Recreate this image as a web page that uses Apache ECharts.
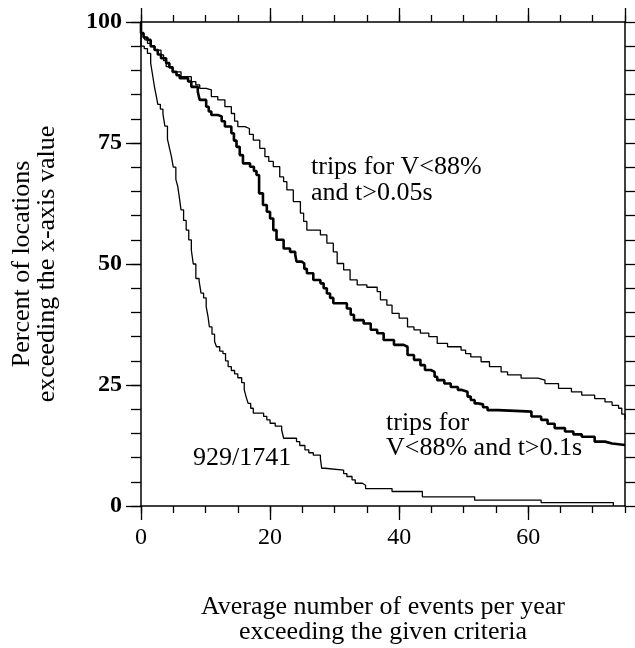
<!DOCTYPE html>
<html>
<head>
<meta charset="utf-8">
<script src="https://cdn.jsdelivr.net/npm/echarts@6/dist/echarts.min.js"></script>
<style>html,body{margin:0;padding:0;background:#fff}#c{width:635px;height:648px}</style>
</head>
<body>
<div id="c"></div>
<script>
// Curve "929/1741" (x = events per year, level after that x)
const xA = [0,0,0.5,1.0,1.5,1.8,2.1,2.4,2.6,3.0,3.4,3.7,4.1,4.4,4.7,5.0,5.4,5.7,6.0,6.2,6.6,7.0,7.4,7.8,8.1,8.5,9.0,9.3,9.7,10.1,10.4,10.6,11.0,11.4,11.7,12.2,12.7,13.1,13.5,14.0,14.5,15.0,15.6,16.0,16.3,16.6,17.0,17.4,19.0,19.5,20.0,20.8,21.8,22.1,24.1,24.6,25.4,26.0,26.7,27.8,28.0,28.5,31.4,31.9,32.7,33.2,34.3,34.8,38.9,43.6,51.7,62.0,73.2];
const yA = [100,95,94.5,93.5,91.5,89,86.5,84.5,83,82,81,78.5,75.8,74,72.3,70,67.5,66,63.2,61.2,59,57,55,52.9,50,47,46.5,44,43,41.2,39,37,35.5,34,32.9,32,31.5,30,28.8,28,27.3,26.5,25.5,24,22.5,21.2,20.2,19.2,18.5,17.8,17.1,16.5,15.7,14.0,13.3,12.5,11.6,11.0,10.5,9.8,7.8,7.4,6.7,6.1,5.4,4.7,4.3,3.6,3.0,1.9,1.2,0.7,0];

// Curve "trips for V<88% and t>0.1s" (thick)
const xB = [0,0,0.4,1.0,1.5,2.1,2.6,3.1,3.9,4.4,4.9,5.5,6.0,7.3,7.8,8.8,9.1,10.1,10.5,10.9,11.9,12.5,13.0,14.0,14.4,14.8,15.3,15.8,16.9,17.5,17.9,18.3,18.9,19.5,20.0,20.5,21.0,22.1,23.1,23.9,24.1,24.9,25.3,25.7,26.7,27.8,28.3,28.8,29.3,29.8,31.9,32.5,33.0,34.5,35.6,36.6,37.6,39.2,40.7,41.3,42.3,43.3,44.0,44.9,45.5,45.9,47.0,48.0,49.1,49.6,50.6,51.1,51.7,52.2,53.0,53.7,55.3,58.9,60.5,62.0,63.0,64.1,65.7,67.0,68.3,70.3,71.9,73.0,75];
const yB = [100,97.7,96.8,96.3,95,94.2,93.3,92.5,91.5,90.6,89.7,89,88.4,87.7,86.6,85.6,83.9,82.5,81.5,80.8,80.5,79.5,78.4,77.0,75.5,74.2,72.5,70.8,70.1,69.2,68.4,64.6,62.2,60.8,59.4,57.0,55.0,53.2,52.5,51.9,50.5,50.1,49,48.1,46.7,46.0,45,43.9,43,41.9,40.8,39.5,38.4,37.7,36.4,35.7,34.3,33.3,32.9,31.2,30.2,29.1,28.1,27.7,26.7,26.0,25.3,24.6,24.0,23.6,22.6,21.9,21.2,21.0,20.4,19.8,19.6,19.5,18.5,17.8,17.0,16.1,15.4,14.8,14.3,13.3,12.9,12.6,12.6];

// Curve "trips for V<88% and t>0.05s" (thin, upper)
const xC = [0,0,0.3,0.6,1.0,1.5,2.1,3.1,3.5,3.9,4.9,6.2,7.8,8.5,9.1,10.1,10.9,11.9,13.0,14.0,14.5,15.0,16.1,16.8,17.4,18.4,19.2,19.8,20.5,21.5,22.1,22.6,23.6,24.7,25.2,25.7,27.8,28.8,29.8,30.4,31.4,32.4,33.5,35.0,36.6,37.1,38.1,38.9,40.0,41.3,42.3,43.3,44.6,45.9,47.5,49.6,50.3,51.1,52.7,54.0,55.8,56.8,58.9,61.5,62.6,64.7,66.7,68.3,70.3,71.9,73.0,74.0,74.5,75];
const yC = [100,98,97.5,96.3,95.6,94.9,94.2,93.2,92,90.8,89.7,88.7,87.7,87,86.3,86.0,84.6,83.9,82.5,81.1,79.5,78.4,78.0,76.8,75.6,73.9,72.2,71.2,70.1,68.0,67,65.3,62.9,60.5,58.8,57.0,56.0,54.3,52.5,50.1,48.8,46.7,45.7,45.2,44.3,42.6,41.5,39.8,38.8,37.0,36.4,35.7,35.0,33.6,32.9,32.2,31.5,30.8,29.8,28.8,27.7,27.1,26.4,26.0,25.3,24.3,23.6,22.9,22.2,21.5,20.8,20.2,19,17.8];

const xTitle = ['Average number of events per year', 'exceeding the given criteria'];
const yTitle = ['Percent of locations', 'exceeding the x-axis value'];
const noteC = ['trips for V<88%', 'and t>0.05s'];
const noteB = ['trips for', 'V<88% and t>0.1s'];
const noteA = '929/1741';

const FONT = '"Liberation Serif","Times New Roman",serif';
const zip = (xs, ys) => xs.map((x, i) => [x, ys[i]]);

const chart = echarts.init(document.getElementById('c'), null, {renderer: 'canvas'});
const axisLineStyle = {color: '#000', width: 1.5};
function xAx(pos, interval, len, labels) {
  return {
    type: 'value', position: pos, min: 0, max: 75, interval: interval,
    axisLine: {show: labels !== null, lineStyle: axisLineStyle, onZero: false},
    axisTick: {show: true, inside: false, length: len, lineStyle: {color: '#000', width: 1.3}},
    axisLabel: labels ? {show: true, fontFamily: FONT, fontSize: 24, color: '#000', margin: 20,
      showMaxLabel: false, formatter: v => (v % 20 === 0 ? String(v) : '')} : {show: false},
    splitLine: {show: false}
  };
}
function yAx(pos, interval, len, labels) {
  return {
    type: 'value', position: pos, min: 0, max: 100, interval: interval,
    axisLine: {show: labels !== null, lineStyle: axisLineStyle, onZero: false},
    axisTick: {show: true, inside: false, length: len, lineStyle: {color: '#000', width: 1.3}},
    axisLabel: labels ? {show: true, fontFamily: FONT, fontSize: 24, fontWeight: 'bold', color: '#000', margin: 19} : {show: false},
    splitLine: {show: false}
  };
}

const option = {
  animation: false,
  backgroundColor: '#fff',
  grid: {left: 141, right: 10, top: 22, bottom: 142, containLabel: false},
  xAxis: [
    xAx('bottom', 20, 14, true),
    xAx('bottom', 5, 7, null),
    xAx('top', 20, 14, false),
    xAx('top', 5, 7, null)
  ],
  yAxis: [
    yAx('left', 25, 15, true),
    yAx('left', 5, 10, null),
    yAx('right', 5, 10, false)
  ],
  series: [
    {type: 'line', step: 'end', data: zip(xA, yA), showSymbol: false, clip: true,
     lineStyle: {color: '#000', width: 1.3}},
    {type: 'line', step: 'end', data: zip(xB, yB), showSymbol: false, clip: true,
     lineStyle: {color: '#000', width: 2.6}},
    {type: 'line', step: 'end', data: zip(xC, yC), showSymbol: false, clip: true,
     lineStyle: {color: '#000', width: 1.3}}
  ],
  graphic: [
    {type: 'text', left: null, x: 383, y: 607, style: {text: xTitle[0], font: '26px ' + FONT, fill: '#000', textAlign: 'center', textVerticalAlign: 'middle'}},
    {type: 'text', x: 383, y: 632, style: {text: xTitle[1], font: '26px ' + FONT, fill: '#000', textAlign: 'center', textVerticalAlign: 'middle'}},
    {type: 'text', x: 22, y: 264, rotation: Math.PI / 2, style: {text: yTitle[0], font: '26px ' + FONT, fill: '#000', textAlign: 'center', textVerticalAlign: 'middle'}},
    {type: 'text', x: 47, y: 264, rotation: Math.PI / 2, style: {text: yTitle[1], font: '26px ' + FONT, fill: '#000', textAlign: 'center', textVerticalAlign: 'middle'}},
    {type: 'text', x: 311, y: 167, style: {text: noteC[0], font: '26px ' + FONT, fill: '#000', textAlign: 'left', textVerticalAlign: 'middle'}},
    {type: 'text', x: 311, y: 193, style: {text: noteC[1], font: '26px ' + FONT, fill: '#000', textAlign: 'left', textVerticalAlign: 'middle'}},
    {type: 'text', x: 386, y: 423, style: {text: noteB[0], font: '26px ' + FONT, fill: '#000', textAlign: 'left', textVerticalAlign: 'middle'}},
    {type: 'text', x: 386, y: 448, style: {text: noteB[1], font: '26px ' + FONT, fill: '#000', textAlign: 'left', textVerticalAlign: 'middle'}},
    {type: 'text', x: 193, y: 458, style: {text: noteA, font: '26px ' + FONT, fill: '#000', textAlign: 'left', textVerticalAlign: 'middle'}}
  ]
};
chart.setOption(option);
</script>
</body>
</html>
